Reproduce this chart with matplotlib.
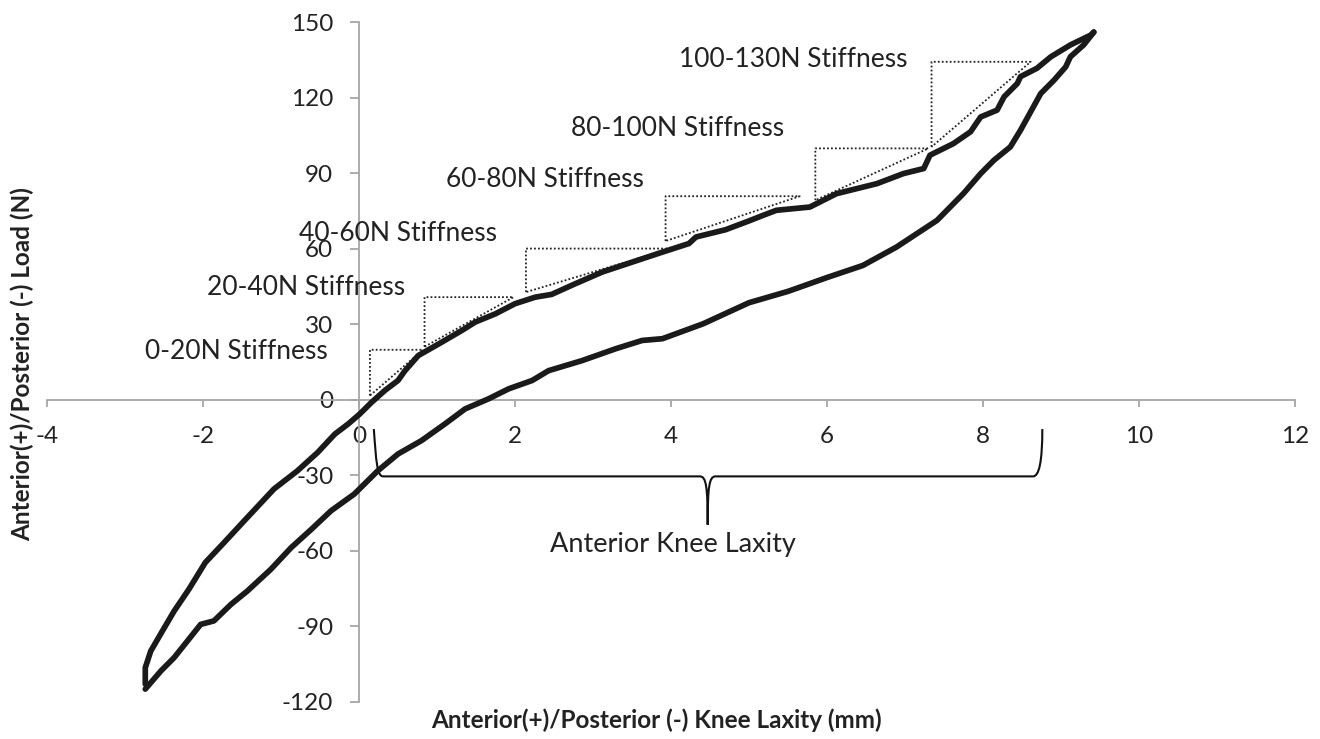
import numpy as np
import matplotlib.pyplot as plt
from matplotlib.path import Path
from matplotlib.patches import PathPatch

plt.rcParams['font.family'] = ['Lato', 'DejaVu Sans']
plt.rcParams['axes.unicode_minus'] = False

# loading branch (bottom-left -> top-right)
load_x = [-2.74, -2.74, -2.67, -2.52, -2.37, -2.18, -1.97, -1.73, -1.47, -1.09,
          -0.79, -0.53, -0.31, -0.14, 0.01, 0.16, 0.33, 0.50, 0.59, 0.76,
          1.06, 1.32, 1.49, 1.75, 2.00, 2.26, 2.47, 2.77, 3.12, 3.50,
          3.89, 4.23, 4.32, 4.70, 5.00, 5.18, 5.35, 5.78, 6.12, 6.64,
          6.98, 7.24, 7.32, 7.62, 7.84, 7.97, 8.18, 8.27, 8.44, 8.48,
          8.69, 8.87, 9.12, 9.38, 9.42]
load_y = [-113.0, -106.5, -99.9, -91.9, -84.0, -75.3, -64.7, -56.8, -48.1, -35.5,
          -28.3, -21.0, -13.7, -9.7, -5.7, -1.1, 3.6, 7.6, 11.5, 17.5,
          22.8, 27.5, 30.8, 34.1, 38.1, 40.7, 41.8, 46.0, 50.7, 54.6,
          58.6, 62.0, 64.6, 67.5, 71.0, 73.2, 75.2, 76.5, 81.8, 85.8,
          89.8, 91.8, 97.1, 101.7, 106.4, 112.3, 115.0, 120.3, 125.6, 128.3,
          131.6, 136.2, 140.9, 144.8, 146.0]

# unloading branch (top-right -> bottom-left)
unload_x = [9.42, 9.29, 9.12, 9.06, 8.91, 8.74, 8.48, 8.35, 8.14, 7.97,
            7.75, 7.41, 7.15, 6.89, 6.46, 6.00, 5.50, 5.00, 4.41, 3.89,
            3.63, 3.29, 2.86, 2.43, 2.22, 1.92, 1.66, 1.36, 1.10, 0.80,
            0.50, 0.24, -0.06, -0.36, -0.61, -0.87, -1.13, -1.43, -1.64, -1.86,
            -2.03, -2.20, -2.37, -2.54, -2.74]
unload_y = [146.0, 140.9, 136.2, 132.2, 126.9, 121.6, 107.0, 100.4, 95.1, 89.8,
            81.9, 71.2, 65.9, 60.6, 53.3, 48.5, 43.0, 38.5, 30.1, 24.2,
            23.5, 20.2, 15.5, 11.5, 7.6, 4.3, 0.3, -3.7, -9.7, -16.3,
            -21.6, -28.3, -37.5, -44.2, -51.5, -58.8, -67.4, -76.0, -81.3, -87.9,
            -89.3, -95.9, -102.5, -107.8, -115.0]

# stiffness triangles: start point on curve, end point on curve
stiff_labels = ["0-20N Stiffness", "20-40N Stiffness", "40-60N Stiffness",
                "60-80N Stiffness", "80-100N Stiffness", "100-130N Stiffness"]
stiff_x0 = [0.14, 0.84, 2.14, 3.93, 5.85, 7.34]
stiff_y0 = [1.6, 21.0, 42.7, 63.0, 79.2, 100.4]
stiff_x1 = [0.82, 1.98, 4.00, 5.65, 7.30, 8.61]
stiff_y1 = [19.8, 40.7, 60.0, 80.8, 99.8, 134.2]
label_x = [-2.74, -1.95, -0.77, 1.11, 2.72, 4.10]
label_y = [19.1, 44.6, 66.1, 87.5, 107.8, 135.3]

# laxity brace
brace_left, brace_mid, brace_right = 0.19, 4.47, 8.76
brace_top, brace_line, brace_tip = -11.7, -30.5, -49.7

fig = plt.figure(figsize=(13.2, 7.39), dpi=100)
ax = fig.add_axes([0.0356, 0.0505, 0.9455, 0.9197])

ax.set_xlim(-4, 12)
ax.set_ylim(-120, 150)
ax.set_xticks(np.arange(-4, 13, 2))
ax.set_yticks(np.arange(-120, 151, 30))

axis_col = '#a6a6a6'
for s in ['top', 'right']:
    ax.spines[s].set_visible(False)
ax.spines['left'].set_position(('data', 0))
ax.spines['bottom'].set_position(('data', 0))
for s in ['left', 'bottom']:
    ax.spines[s].set_color(axis_col)
    ax.spines[s].set_linewidth(1.3)
ax.tick_params(axis='x', direction='out', length=5, width=1.3, color=axis_col,
               pad=14, labelsize=17.5, labelcolor='#222222')
ax.tick_params(axis='y', direction='out', length=6.5, width=1.3, color=axis_col,
               pad=12, labelsize=17.5, labelcolor='#222222')

ax.plot(load_x, load_y, color='#1a1a1a', lw=4.1, solid_joinstyle='round',
        solid_capstyle='round', zorder=3)
ax.plot(unload_x, unload_y, color='#1a1a1a', lw=4.1, solid_joinstyle='round',
        solid_capstyle='round', zorder=3)

for i in range(len(stiff_labels)):
    x0, y0, x1, y1 = stiff_x0[i], stiff_y0[i], stiff_x1[i], stiff_y1[i]
    ax.plot([x0, x0, x1, x0], [y0, y1, y1, y0], color='#222222', lw=1.3,
            linestyle=(0, (1, 1.2)), zorder=2)
    ax.text(label_x[i], label_y[i], stiff_labels[i], fontsize=19,
            color='#222222', ha='left', va='center', zorder=4)

verts = [(brace_left, brace_top),
         (brace_left + 0.03, brace_line + 6), (brace_left + 0.04, brace_line), (brace_left + 0.12, brace_line),
         (brace_mid - 0.1, brace_line),
         (brace_mid - 0.02, brace_line), (brace_mid, brace_line - 4), (brace_mid, brace_tip),
         (brace_mid, brace_line - 4), (brace_mid + 0.02, brace_line), (brace_mid + 0.1, brace_line),
         (brace_right - 0.12, brace_line),
         (brace_right - 0.04, brace_line), (brace_right, brace_line + 6), (brace_right, brace_top)]
codes = [Path.MOVETO,
         Path.CURVE4, Path.CURVE4, Path.CURVE4,
         Path.LINETO,
         Path.CURVE4, Path.CURVE4, Path.CURVE4,
         Path.CURVE4, Path.CURVE4, Path.CURVE4,
         Path.LINETO,
         Path.CURVE4, Path.CURVE4, Path.CURVE4]
ax.add_patch(PathPatch(Path(verts, codes), facecolor='none', edgecolor='#111111',
                       lw=1.5, zorder=2))
ax.text(4.03, -57.5, "Anterior Knee Laxity", fontsize=19.5, color='#222222',
        ha='center', va='center')

fig.text(0.497, 0.026, "Anterior(+)/Posterior (-) Knee Laxity (mm)", fontsize=17.5,
         fontweight='bold', color='#222222', ha='center', va='center')
fig.text(0.0167, 0.507, "Anterior(+)/Posterior (-) Load (N)", fontsize=17.5,
         fontweight='bold', color='#222222', ha='center', va='center', rotation=90)

fig.savefig("out.png", dpi=100)
